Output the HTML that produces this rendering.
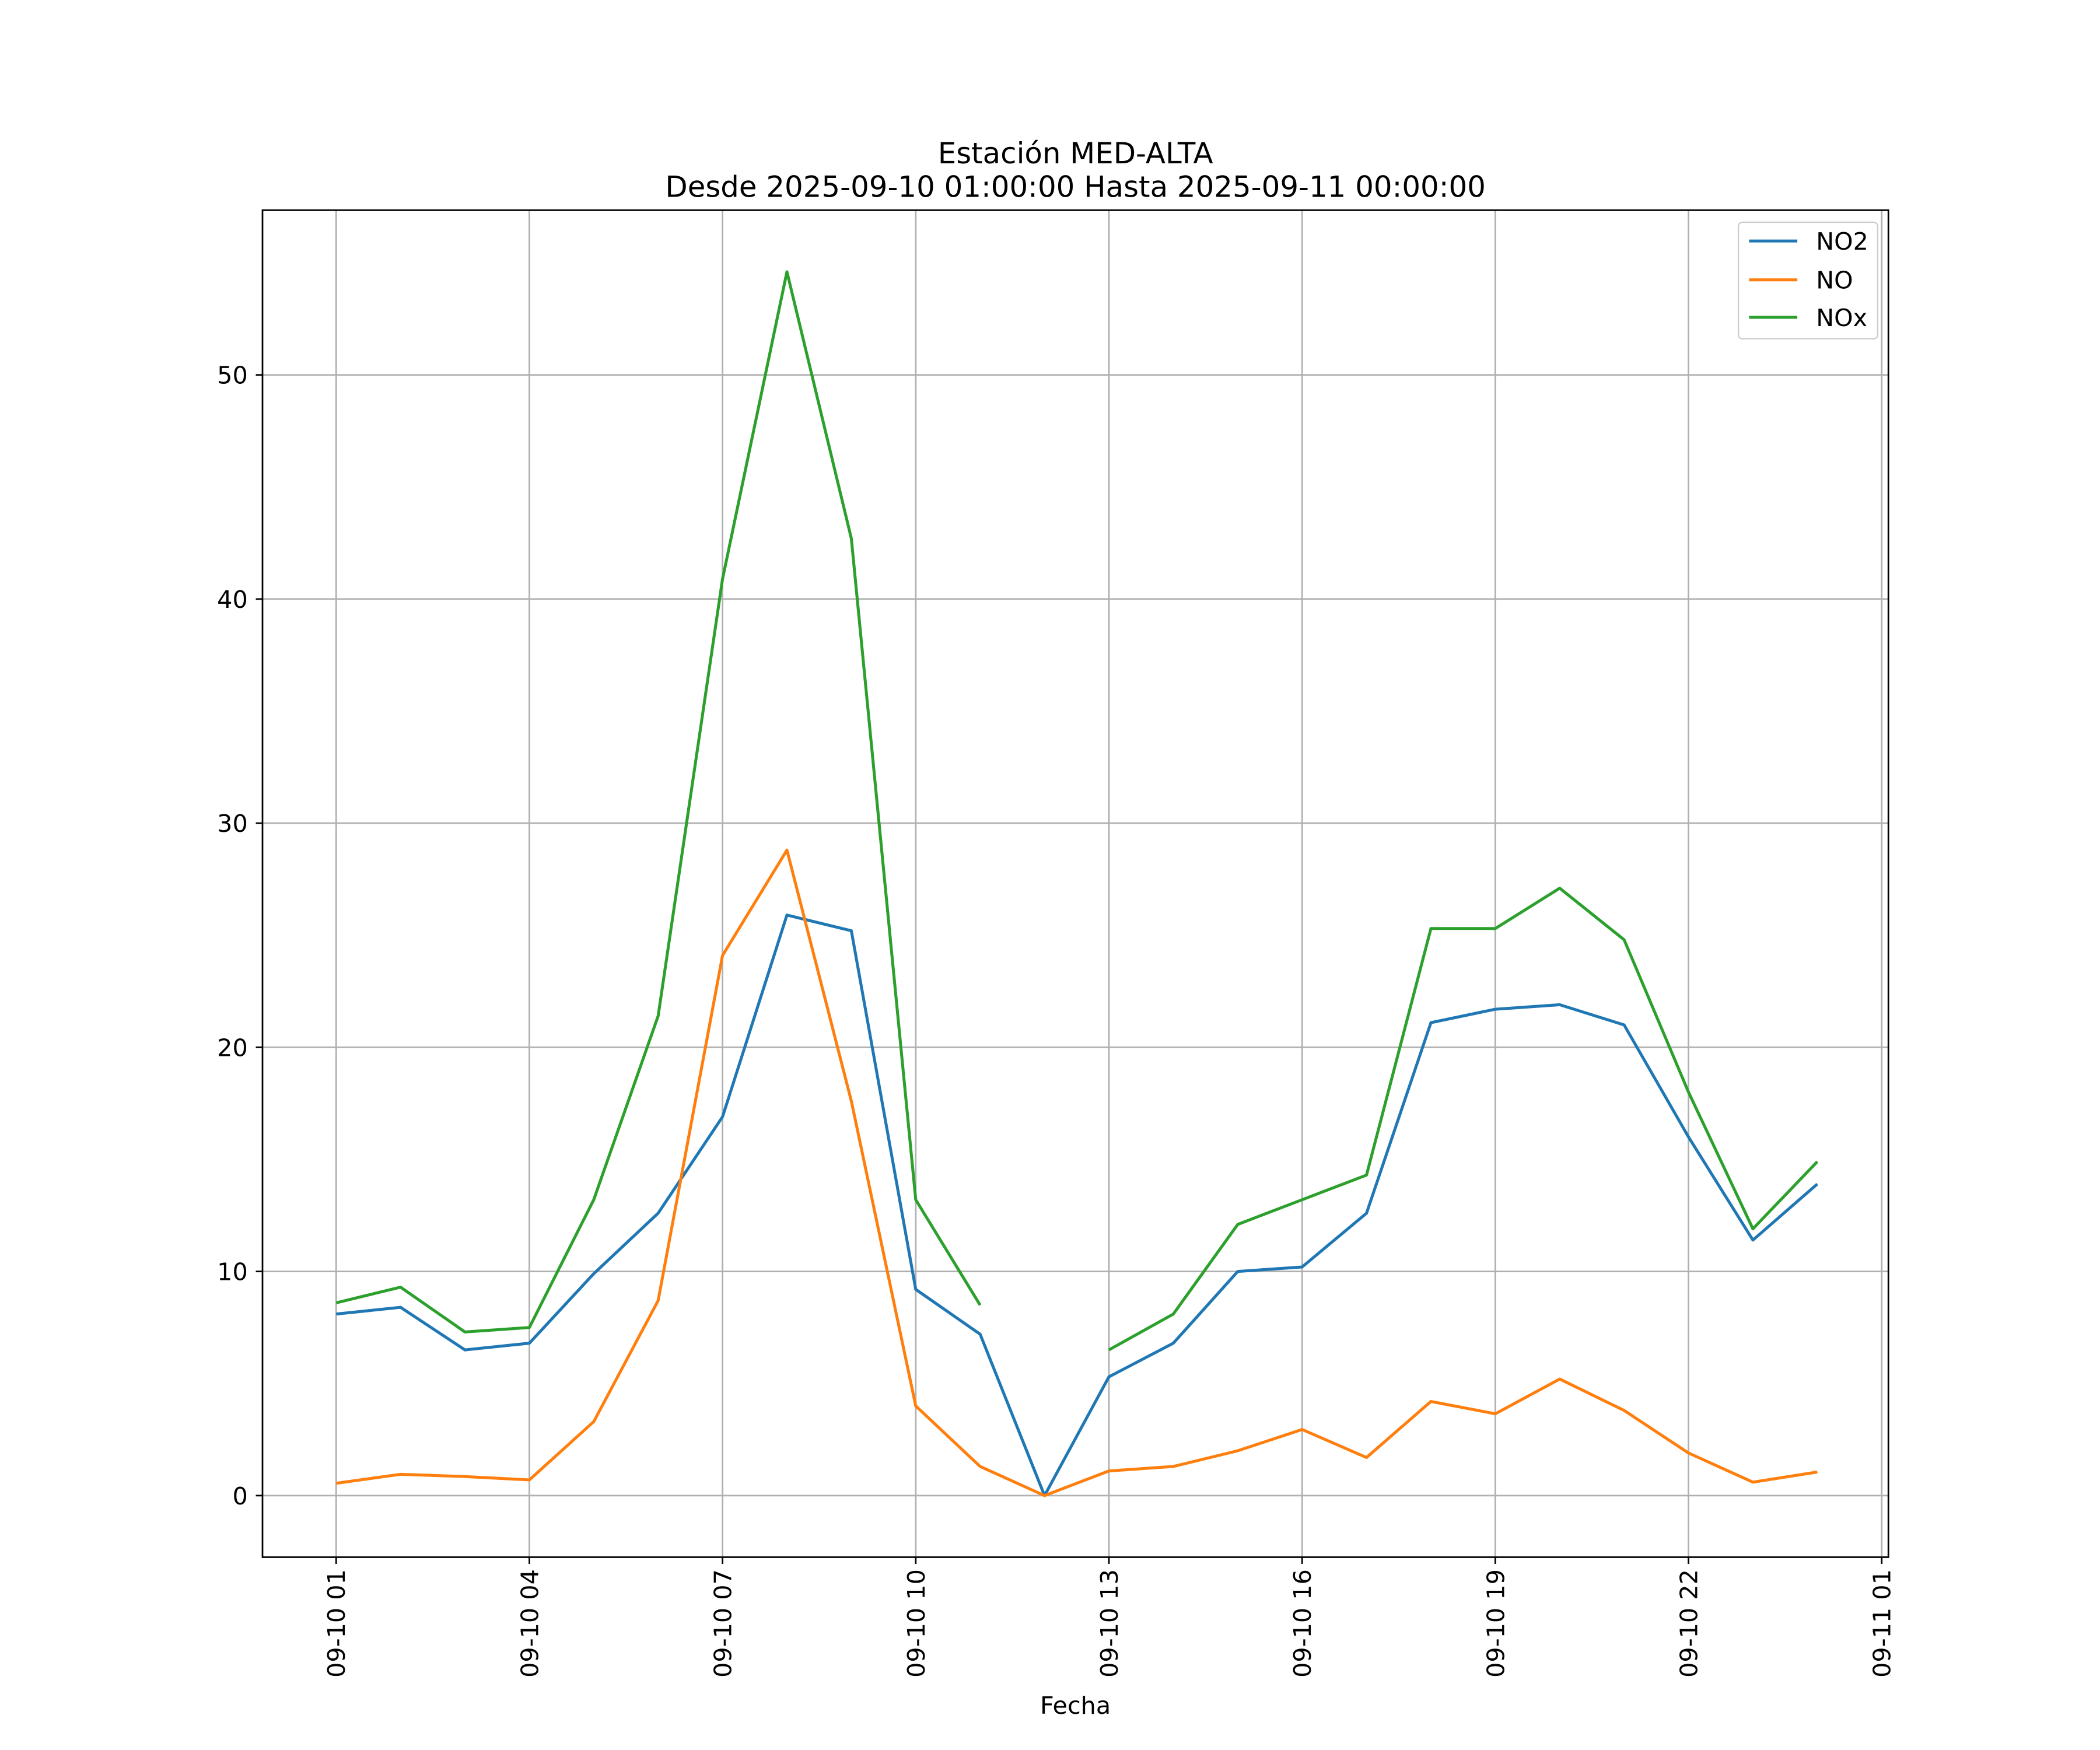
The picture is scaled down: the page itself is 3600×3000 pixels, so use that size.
<!DOCTYPE html>
<html><head><meta charset="utf-8">
<style>
html,body{margin:0;padding:0;background:#fff;}
svg{display:block;font-family:"DejaVu Sans","Liberation Sans",sans-serif;}
</style></head>
<body>
<svg id="chart" width="3600" height="3000" viewBox="0 0 1568 1307" preserveAspectRatio="none" xmlns="http://www.w3.org/2000/svg">
<rect width="1568" height="1307" fill="#fff"/>
<g id="grid"></g>
<g id="series"></g>
<rect x="196" y="157" width="1214" height="1006" fill="none" stroke="#000" stroke-width="1.2"/>
<g id="ticks"></g>
<text x="803" y="122" text-anchor="middle" font-size="21.7">Estación MED-ALTA</text>
<text x="803" y="147" text-anchor="middle" font-size="21.7">Desde 2025-09-10 01:00:00 Hasta 2025-09-11 00:00:00</text>
<text x="803" y="1280" text-anchor="middle" font-size="18">Fecha</text>
<g>
<rect x="1298" y="166" width="104" height="87" rx="3" fill="#fff" fill-opacity="0.8" stroke="#ccc"/>
<g><line x1="1306" y1="180" x2="1342" y2="180" stroke="#1f77b4" stroke-width="2.2"/><text x="1356" y="186.5" font-size="18">NO2</text></g>
<g><line x1="1306" y1="209" x2="1342" y2="209" stroke="#ff7f0e" stroke-width="2.2"/><text x="1356" y="215.5" font-size="18">NO</text></g>
<g><line x1="1306" y1="237" x2="1342" y2="237" stroke="#2ca02c" stroke-width="2.2"/><text x="1356" y="243.5" font-size="18">NOx</text></g>
</g>
</svg>
<script>
const hours = [1,2,3,4,5,6,7,8,9,10,11,12,13,14,15,16,17,18,19,20,21,22,23,24];
const no2 = [8.1,8.4,6.5,6.8,9.9,12.6,16.9,25.9,25.2,9.2,7.2,0,5.3,6.8,10.0,10.2,12.6,21.1,21.7,21.9,21.0,16.0,11.4,13.9];
const no = [0.55,0.95,0.85,0.7,3.3,8.7,24.1,28.8,17.6,4.0,1.3,0,1.1,1.3,2.0,2.95,1.7,4.2,3.65,5.2,3.8,1.9,0.6,1.05];
const nox = [8.6,9.3,7.3,7.5,13.2,21.4,40.9,54.6,42.7,13.2,8.5,null,6.5,8.1,12.1,13.2,14.3,25.3,25.3,27.1,24.8,18.0,11.9,14.9];
const yTicks = [0,10,20,30,40,50];
const xTickHours = [1,4,7,10,13,16,19,22,25];
const xTickLabels = ["09-10 01","09-10 04","09-10 07","09-10 10","09-10 13","09-10 16","09-10 19","09-10 22","09-11 01"];

const NS = "http://www.w3.org/2000/svg";
function x(h){ return 251 + (h-1)*(1405-251)/24; }
function y(v){ return 1117 - v*(1117-280)/50; }
function mk(tag, attrs, parent){ const e=document.createElementNS(NS,tag); for(const k in attrs) e.setAttribute(k,attrs[k]); parent.appendChild(e); return e; }

const grid=document.getElementById('grid'), ticks=document.getElementById('ticks'), series=document.getElementById('series');
yTicks.forEach(v=>{
  const g=mk('line',{x1:196,x2:1410,y1:y(v),y2:y(v),stroke:'#b0b0b0','stroke-width':1.2},grid);
  
  
  mk('line',{x1:191,x2:196,y1:y(v),y2:y(v),stroke:'#000','stroke-width':1.2},ticks);
  const t=mk('text',{x:185,y:y(v)+6.5,'text-anchor':'end','font-size':18},ticks);
  t.textContent=v;
  
  
});
xTickHours.forEach((h,i)=>{
  const g=mk('line',{x1:x(h),x2:x(h),y1:157,y2:1163,stroke:'#b0b0b0','stroke-width':1.2},grid);
  
  
  mk('line',{x1:x(h),x2:x(h),y1:1163,y2:1168,stroke:'#000','stroke-width':1.2},ticks);
  const t=mk('text',{x:0,y:0,'text-anchor':'end','font-size':18,transform:`translate(${x(h)+6.5},1172) rotate(-90)`},ticks);
  t.textContent=xTickLabels[i];
  
  
});
function draw(vals,color,name){
  let d='', pen=false;
  vals.forEach((v,i)=>{
    if(v===null){pen=false;return;}
    d += (pen?'L':'M') + x(hours[i]).toFixed(2)+','+y(v).toFixed(2)+' ';
    pen=true;
  });
  const p=mk('path',{d:d,fill:'none',stroke:color,'stroke-width':2.2,'stroke-linejoin':'round'},series);
  
  
}
draw(no2,'#1f77b4','line-no2');
draw(no,'#ff7f0e','line-no');
draw(nox,'#2ca02c','line-nox');
</script>
</body></html>
